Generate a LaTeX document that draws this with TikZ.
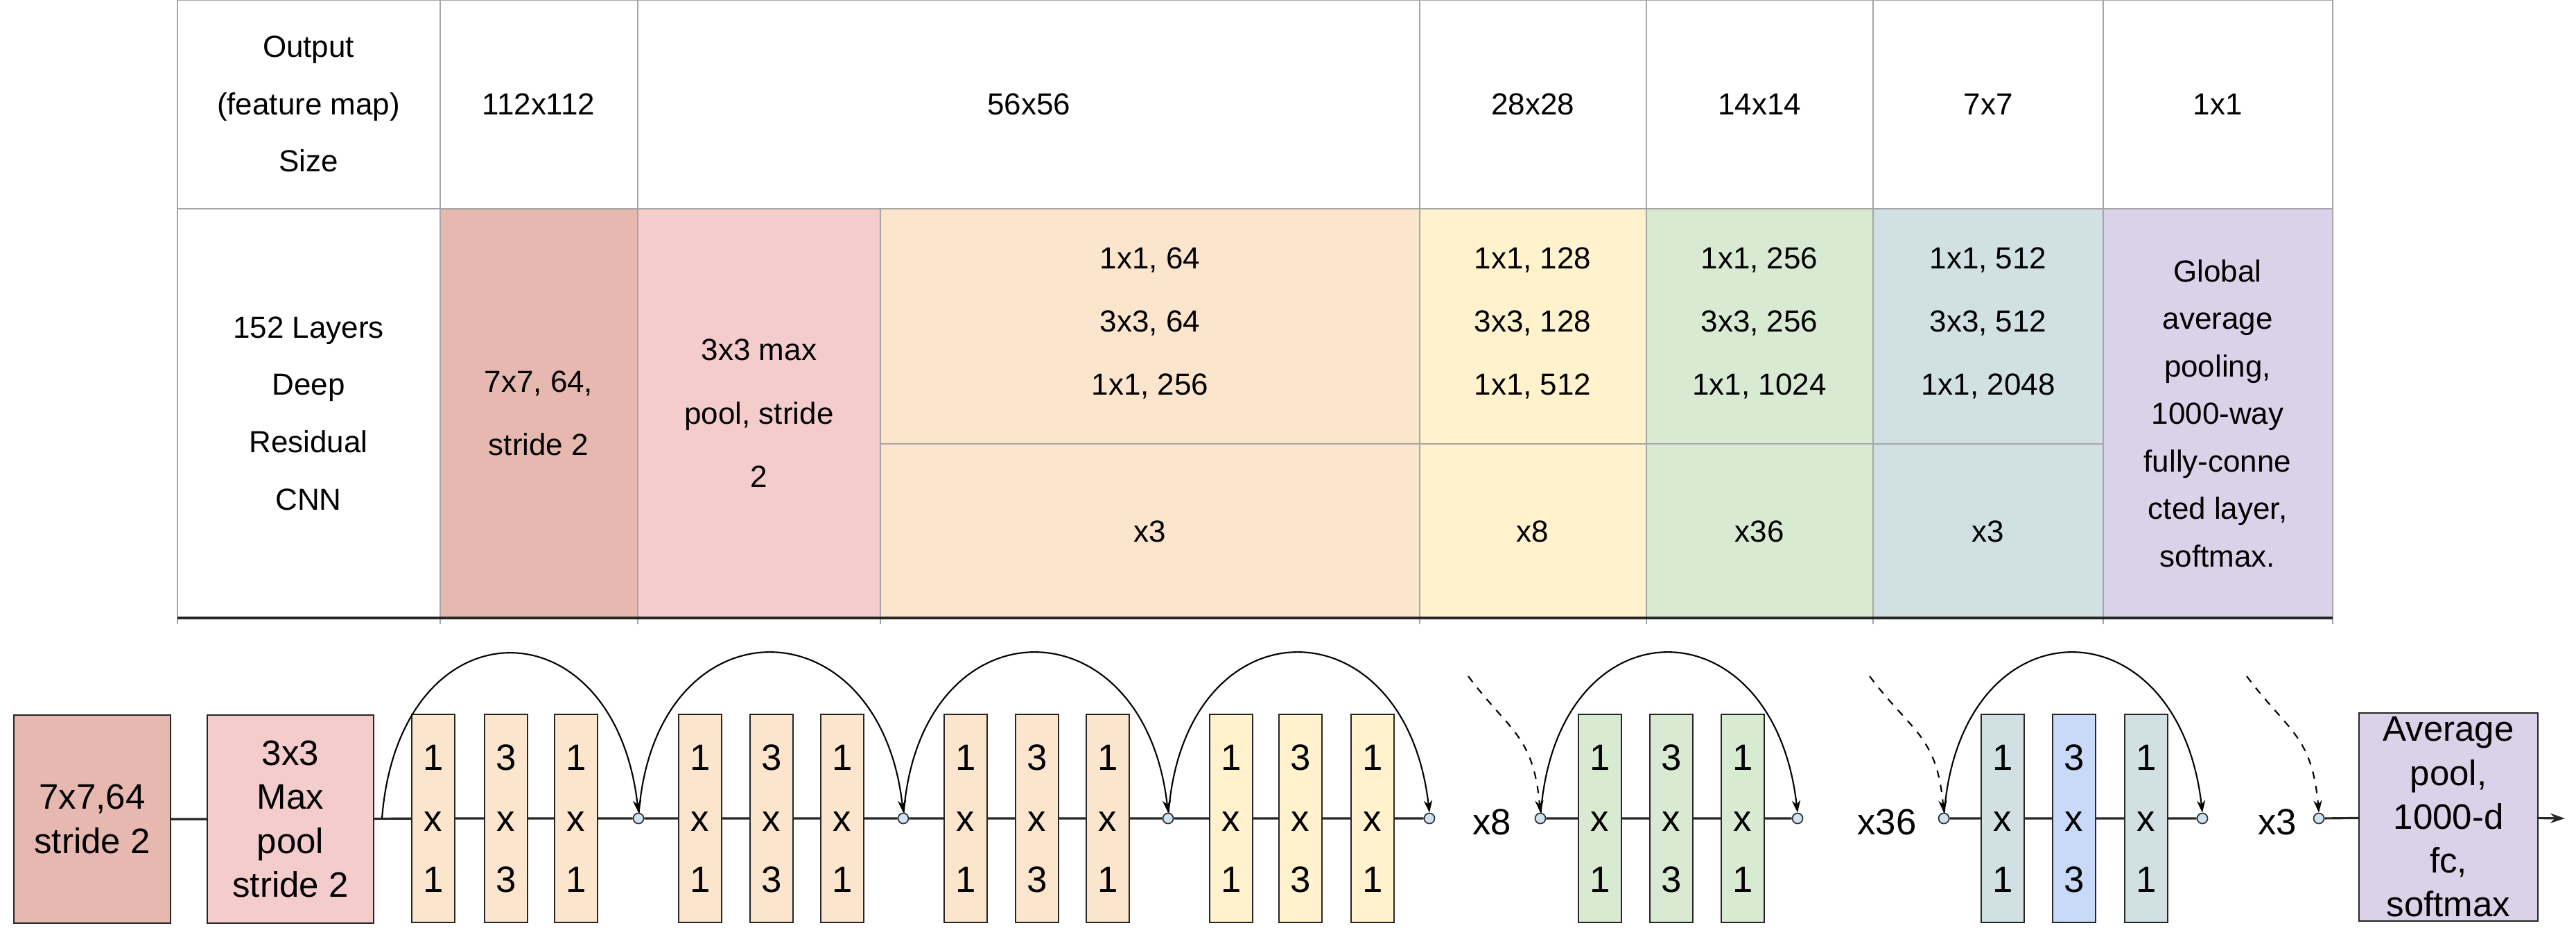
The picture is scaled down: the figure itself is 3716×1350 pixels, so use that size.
\documentclass[tikz,border=0pt]{standalone}
\usepackage{fontspec}
\setmainfont{Liberation Sans}
\usetikzlibrary{arrows.meta}
\definecolor{cA}{HTML}{E6B8AF}
\definecolor{cB}{HTML}{F4CCCC}
\definecolor{cC}{HTML}{FCE5CD}
\definecolor{cD}{HTML}{FFF2CC}
\definecolor{cE}{HTML}{D9EAD3}
\definecolor{cF}{HTML}{D0E0E3}
\definecolor{cG}{HTML}{D9D2E9}
\definecolor{cH}{HTML}{C9DAF8}
\definecolor{cI}{HTML}{CFE2F3}
\tikzset{
 grid/.style={draw=gray!70,line width=0.5pt},
 ttxt/.style={align=center,font=\fontsize{12.5}{26}\selectfont},
 sbox/.style={draw=black!85,line width=0.6pt,minimum width=0.62cm,minimum height=3cm,inner sep=0pt,align=center,font=\fontsize{15}{25}\selectfont},
 bbox/.style={draw=black!85,line width=0.6pt,minimum height=3cm,inner sep=0pt,align=center,font=\fontsize{14.5}{18}\selectfont},
 sumc/.style={circle,draw=black!80,fill=cI,line width=0.5pt,minimum size=0.15cm,inner sep=0pt},
 conn/.style={line width=0.9pt,black!85},
 skip/.style={line width=0.6pt,-{Stealth[length=5pt,width=3.5pt]}},
 lbl/.style={font=\fontsize{15}{18}\selectfont}
}
\begin{document}
\begin{tikzpicture}[x=0.01cm,y=-0.01cm]
\useasboundingbox (0,0) rectangle (3716,1350);
% table fills
\fill[cA] (635,301) rectangle (920,891);
\fill[cB] (920,301) rectangle (1270,891);
\fill[cC] (1270,301) rectangle (2048,891);
\fill[cD] (2048,301) rectangle (2375,891);
\fill[cE] (2375,301) rectangle (2702,891);
\fill[cF] (2702,301) rectangle (3034,891);
\fill[cG] (3034,301) rectangle (3365,891);
% grid
\draw[grid] (256,0) -- (3365,0) (256,301) -- (3365,301) (1270,640) -- (3034,640);
\foreach \x in {256,635,920,2048,2375,2702,3034,3365} \draw[grid] (\x,0) -- (\x,900);
\draw[grid] (1270,301) -- (1270,900);
\draw[black!85,line width=1.4pt] (256,891) -- (3365,891);
% header texts
\node[ttxt,font=\fontsize{12.5}{23.5}\selectfont] (h0) at (445,150) {Output\\(feature map)\\Size};
\node[ttxt] (h1) at (777,150) {112x112};
\node[ttxt] (h2) at (1484,150) {56x56};
\node[ttxt] (h3) at (2211,150) {28x28};
\node[ttxt] (h4) at (2538,150) {14x14};
\node[ttxt] (h5) at (2868,150) {7x7};
\node[ttxt] (h6) at (3199,150) {1x1};
% lower row
\node[ttxt,font=\fontsize{12.5}{23.5}\selectfont] (r0) at (445,596) {152 Layers\\Deep\\Residual\\CNN};
\node[ttxt] (r1) at (777,596) {7x7, 64,\\stride 2};
\node[ttxt] (r2) at (1095,596) {3x3 max\\pool, stride\\2};
\node[ttxt] (r3) at (1659,466) {1x1, 64\\3x3, 64\\1x1, 256};
\node[ttxt] (r4) at (2211,466) {1x1, 128\\3x3, 128\\1x1, 512};
\node[ttxt] (r5) at (2538,466) {1x1, 256\\3x3, 256\\1x1, 1024};
\node[ttxt] (r6) at (2868,466) {1x1, 512\\3x3, 512\\1x1, 2048};
\node[ttxt] (m3) at (1659,766) {x3};
\node[ttxt] (m4) at (2211,766) {x8};
\node[ttxt] (m5) at (2538,766) {x36};
\node[ttxt] (m6) at (2868,766) {x3};
\node[ttxt,font=\fontsize{12.5}{19.5}\selectfont] (r7) at (3199,596) {Global\\average\\pooling,\\1000-way\\fully-conne\\cted layer,\\softmax.};
% bottom diagram
\node[bbox,fill=cA,minimum width=2.26cm] (b1) at (133,1181) {7x7,64\\stride 2};
\node[bbox,fill=cB,minimum width=2.4cm] (b2) at (419,1181) {3x3\\Max\\pool\\stride 2};
\foreach \n/\x/\c/\t in {a1/625/cC/1,a2/730/cC/3,a3/831/cC/1,a4/1010/cC/1,a5/1113/cC/3,a6/1215/cC/1,a7/1393/cC/1,a8/1496/cC/3,a9/1598/cC/1,y1/1776/cD/1,y2/1876/cD/3,y3/1980/cD/1,g1/2308/cE/1,g2/2411/cE/3,g3/2514/cE/1,u1/2889/cF/1,u2/2992/cH/3,u3/3096/cF/1}
  \node[sbox,fill=\c] (\n) at (\x,1180) {\t\\x\\\t};
\node[bbox,fill=cG,minimum width=2.58cm] (b3) at (3532,1178) {Average\\pool,\\1000-d\\fc,\\softmax};
\foreach \n/\x in {c1/921,c2/1303,c3/1685,c4/2062,c5/2222,c6/2593,c7/2804,c8/3177,c9/3345}
  \node[sumc] (\n) at (\x,1180) {};
\node[lbl] (x8) at (2152,1185) {x8};
\node[lbl] (x36) at (2722,1185) {x36};
\node[lbl] (x3) at (3285,1185) {x3};
\coordinate (s0) at (551,1180);
\coordinate (out) at (3700,1180);
\coordinate (d1) at (2118,975);
\coordinate (d2) at (2697,975);
\coordinate (d3) at (3241,975);
% main line
\draw[conn] (b1) -- (b2) (b2) -- (a1) (a1) -- (a2) (a2) -- (a3) (a3) -- (c1) (c1) -- (a4) (a4) -- (a5) (a5) -- (a6) (a6) -- (c2) (c2) -- (a7) (a7) -- (a8) (a8) -- (a9) (a9) -- (c3) (c3) -- (y1) (y1) -- (y2) (y2) -- (y3) (y3) -- (c4)
  (c5) -- (g1) (g1) -- (g2) (g2) -- (g3) (g3) -- (c6) (c7) -- (u1) (u1) -- (u2) (u2) -- (u3) (u3) -- (c8) (c9) -- (b3);
\draw[conn,-{Stealth[length=6pt,width=4pt]}] (b3) -- (out);
% skips
\foreach \p/\q in {s0/c1,c1/c2,c2/c3,c3/c4,c5/c6,c7/c8}
  \draw[skip] (\p) .. controls ([xshift=0.25cm,yshift=3.15cm]\p) and ([xshift=-0.35cm,yshift=3.15cm]\q) .. (\q.north);
\foreach \p/\q in {d1/c5,d2/c7,d3/c9}
  \draw[skip,dashed] (\p) .. controls ([xshift=0.6cm,yshift=-0.8cm]\p) and ([xshift=-0.1cm,yshift=1.2cm]\q) .. (\q.north);
\end{tikzpicture}
\end{document}
